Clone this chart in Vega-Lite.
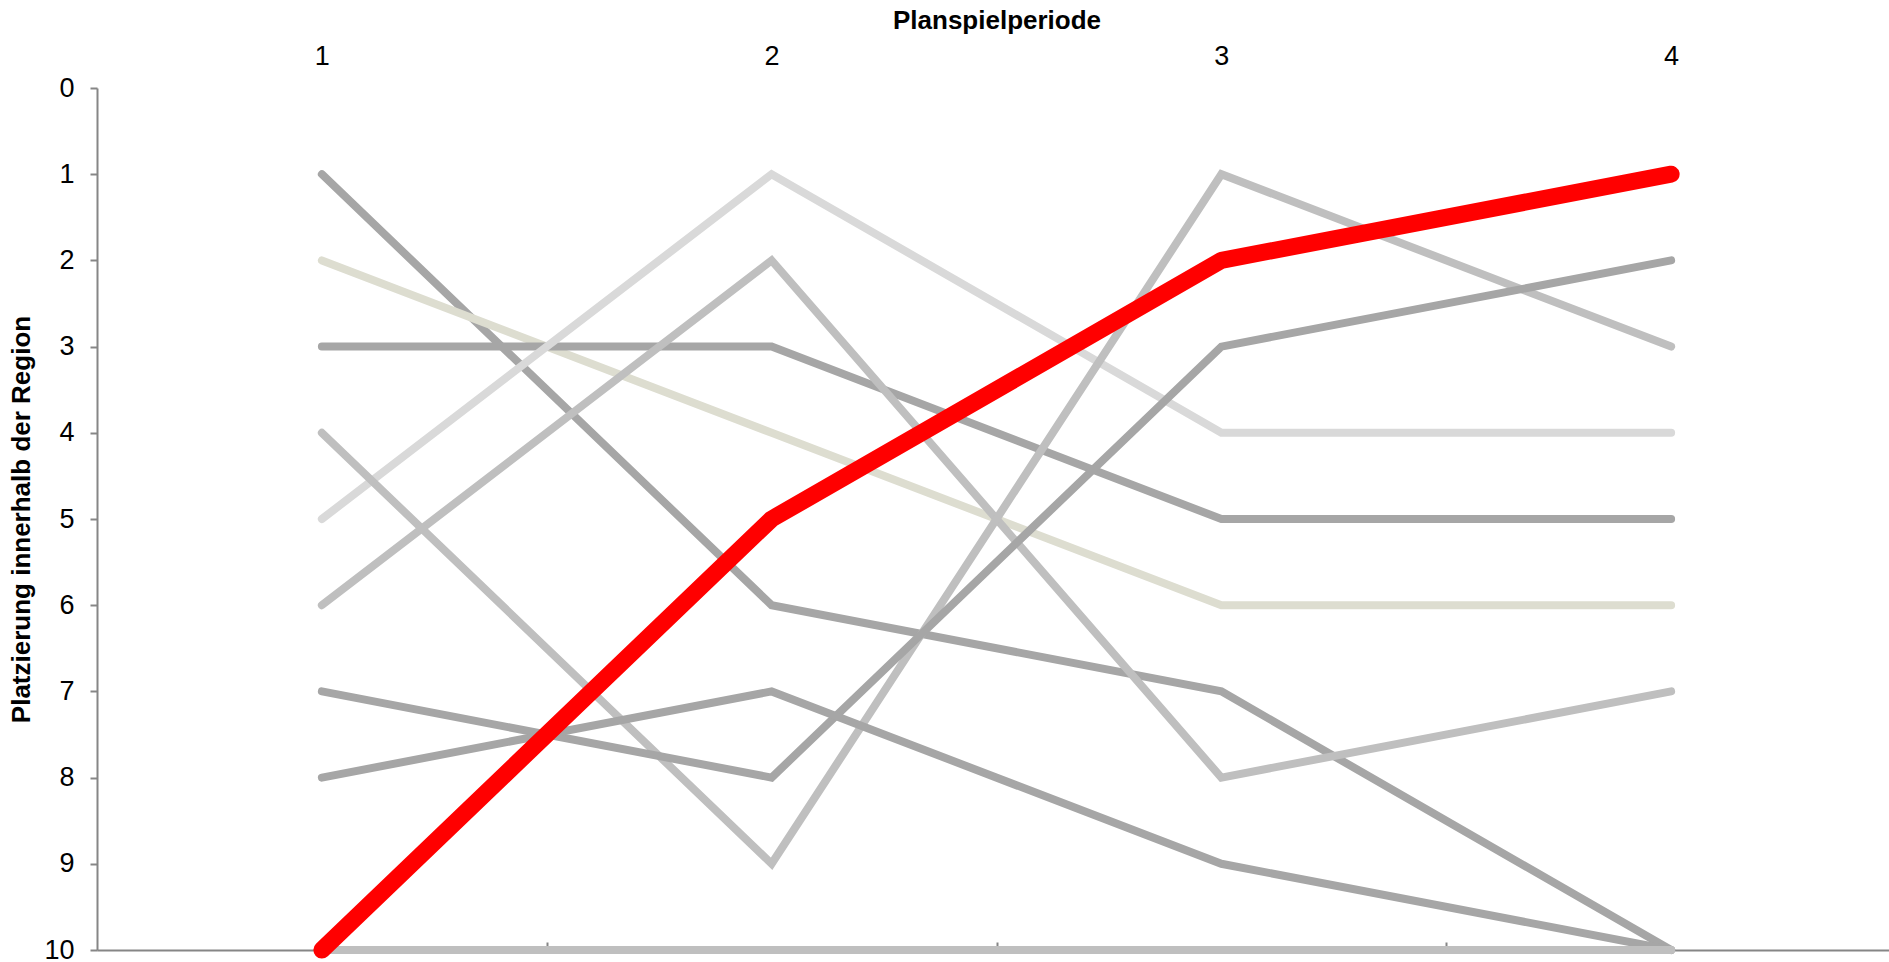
{
  "$schema": "https://vega.github.io/schema/vega-lite/v6.json",
  "width": 1799,
  "height": 862,
  "autosize": {"type": "none"},
  "padding": {"left": 97, "top": 88, "right": 0, "bottom": 12},
  "background": "white",
  "config": {
    "font": "Liberation Sans",
    "view": {"stroke": null},
    "axis": {"grid": false, "labelFont": "Liberation Sans", "titleFont": "Liberation Sans"}
  },
  "data": {
    "values": [
      {"team": "U2", "periode": 1, "platz": 1}, {"team": "U2", "periode": 2, "platz": 6}, {"team": "U2", "periode": 3, "platz": 7}, {"team": "U2", "periode": 4, "platz": 10},
      {"team": "U3", "periode": 1, "platz": 2}, {"team": "U3", "periode": 2, "platz": 4}, {"team": "U3", "periode": 3, "platz": 6}, {"team": "U3", "periode": 4, "platz": 6},
      {"team": "U4", "periode": 1, "platz": 3}, {"team": "U4", "periode": 2, "platz": 3}, {"team": "U4", "periode": 3, "platz": 5}, {"team": "U4", "periode": 4, "platz": 5},
      {"team": "U5", "periode": 1, "platz": 5}, {"team": "U5", "periode": 2, "platz": 1}, {"team": "U5", "periode": 3, "platz": 4}, {"team": "U5", "periode": 4, "platz": 4},
      {"team": "U6", "periode": 1, "platz": 6}, {"team": "U6", "periode": 2, "platz": 2}, {"team": "U6", "periode": 3, "platz": 8}, {"team": "U6", "periode": 4, "platz": 7},
      {"team": "U7", "periode": 1, "platz": 4}, {"team": "U7", "periode": 2, "platz": 9}, {"team": "U7", "periode": 3, "platz": 1}, {"team": "U7", "periode": 4, "platz": 3},
      {"team": "U8", "periode": 1, "platz": 7}, {"team": "U8", "periode": 2, "platz": 8}, {"team": "U8", "periode": 3, "platz": 3}, {"team": "U8", "periode": 4, "platz": 2},
      {"team": "U9", "periode": 1, "platz": 8}, {"team": "U9", "periode": 2, "platz": 7}, {"team": "U9", "periode": 3, "platz": 9}, {"team": "U9", "periode": 4, "platz": 10},
      {"team": "U10", "periode": 1, "platz": 10}, {"team": "U10", "periode": 2, "platz": 10}, {"team": "U10", "periode": 3, "platz": 10}, {"team": "U10", "periode": 4, "platz": 10},
      {"team": "U1", "periode": 1, "platz": 10}, {"team": "U1", "periode": 2, "platz": 5}, {"team": "U1", "periode": 3, "platz": 2}, {"team": "U1", "periode": 4, "platz": 1}
    ]
  },
  "resolve": {"axis": {"x": "independent"}},
  "layer": [
    {
      "transform": [{"filter": "datum.team !== 'U1'"}],
      "mark": {"type": "line", "strokeWidth": 8, "strokeCap": "round", "strokeJoin": "miter"},
      "encoding": {
        "x": {
          "field": "periode", "type": "quantitative",
          "scale": {"domain": [0.5, 4.5], "nice": false, "zero": false},
          "axis": {
            "orient": "top", "values": [1, 2, 3, 4], "format": "d",
            "domain": false, "ticks": false, "tickSize": 0,
            "labelFontSize": 27, "labelColor": "#000000", "labelPadding": 18,
            "title": "Planspielperiode", "titleFontSize": 26, "titleFontWeight": "bold",
            "titleColor": "#000000", "titlePadding": 9
          }
        },
        "y": {
          "field": "platz", "type": "quantitative",
          "scale": {"domain": [0, 10], "reverse": true, "nice": false, "zero": false},
          "axis": {
            "values": [0, 1, 2, 3, 4, 5, 6, 7, 8, 9, 10], "format": "d",
            "domainColor": "#868686", "domainWidth": 2,
            "tickColor": "#868686", "tickSize": 7, "tickWidth": 2,
            "labelFontSize": 27, "labelColor": "#000000", "labelPadding": 16,
            "title": "Platzierung innerhalb der Region", "titleFontSize": 26,
            "titleFontWeight": "bold", "titleColor": "#000000", "titlePadding": 9
          }
        },
        "color": {
          "field": "team", "type": "nominal", "legend": null,
          "scale": {
            "domain": ["U1", "U2", "U3", "U4", "U5", "U6", "U7", "U8", "U9", "U10"],
            "range": ["#ff0000", "#a6a6a6", "#ddddd0", "#a6a6a6", "#d9d9d9", "#bfbfbf", "#bfbfbf", "#a6a6a6", "#a6a6a6", "#bfbfbf"]
          }
        }
      }
    },
    {
      "transform": [{"filter": "datum.team === 'U1'"}],
      "mark": {"type": "line", "strokeWidth": 17, "strokeCap": "round", "strokeJoin": "round"},
      "encoding": {
        "x": {
          "field": "periode", "type": "quantitative",
          "scale": {"domain": [0.5, 4.5], "nice": false, "zero": false},
          "axis": {
            "orient": "bottom", "values": [1.5, 2.5, 3.5], "labels": false, "title": null,
            "domainColor": "#868686", "domainWidth": 2,
            "tickColor": "#868686", "tickSize": -8, "tickWidth": 2
          }
        },
        "y": {"field": "platz", "type": "quantitative"},
        "color": {"field": "team", "type": "nominal", "legend": null}
      }
    }
  ]
}
